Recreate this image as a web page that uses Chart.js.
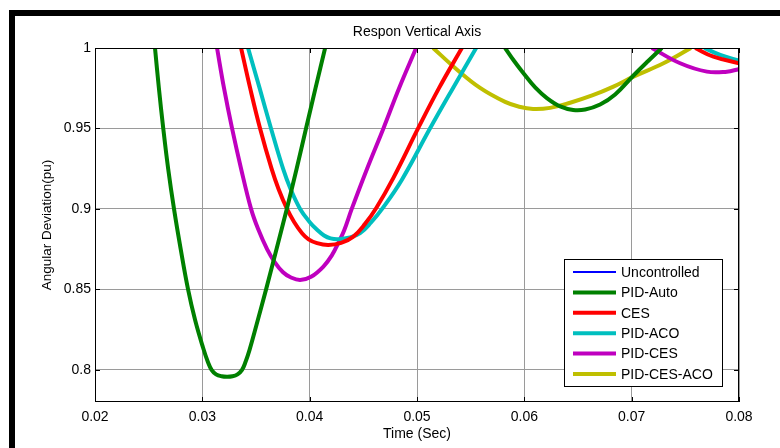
<!DOCTYPE html>
<html>
<head>
<meta charset="utf-8">
<script src="https://cdn.jsdelivr.net/npm/chart.js@4/dist/chart.umd.min.js"></script>
<style>
  body { margin: 0; background: #fff; }
  canvas { display: block; }
</style>
</head>
<body>
<canvas id="respChart" width="780" height="448"></canvas>
<script>
// values (time in sec, deviation in pu)
const seriesNames = ["Uncontrolled", "PID-Auto", "CES", "PID-ACO", "PID-CES", "PID-CES-ACO"];
const seriesColors = ["#0000ff", "#008000", "#ff0000", "#00bfbf", "#bf00bf", "#bfbf00"];

const xTicks = [0.02, 0.03, 0.04, 0.05, 0.06, 0.07, 0.08];
const yTicks = [0.8, 0.85, 0.9, 0.95, 1];

// uncontrolled response stays off the visible range
const uncontrolledT = [];
const uncontrolledV = [];

const pidAutoT = [0.02559, 0.02595, 0.02636, 0.02682, 0.02736, 0.02798, 0.02867, 0.02932, 0.03007, 0.03051, 0.03086, 0.03128, 0.03179, 0.03230,
  0.03281, 0.03328, 0.03370, 0.03403, 0.03440, 0.03505, 0.03594, 0.03692, 0.03787, 0.03878, 0.03966, 0.04055, 0.04144,
  0.05,
  0.05821, 0.05905, 0.05992, 0.06101, 0.06210, 0.06334, 0.06455, 0.06567, 0.06706, 0.06846, 0.07017, 0.07154, 0.07281];
const pidAutoV = [1.0, 0.9752, 0.95, 0.9248, 0.9, 0.8752, 0.85, 0.8311, 0.8137, 0.805, 0.8, 0.7972, 0.796, 0.7957,
  0.796, 0.7972, 0.8, 0.805, 0.8124, 0.828, 0.85, 0.8752, 0.9, 0.9248, 0.95, 0.9752, 1.0,
  null,
  1.0, 0.9919, 0.9843, 0.9755, 0.9689, 0.9637, 0.9615, 0.9618, 0.9649, 0.9711, 0.9829, 0.9919, 1.0];

const cesT = [0.03361, 0.03445, 0.03538, 0.03645, 0.03710, 0.03789, 0.03855, 0.03929, 0.03990, 0.04069, 0.04174,
  0.04293, 0.04407, 0.04516, 0.04619, 0.04780, 0.05010, 0.05206, 0.05418,
  0.065,
  0.07592, 0.07762, 0.08];
const cesV = [1.0, 0.9752, 0.95, 0.925, 0.9124, 0.9, 0.8919, 0.8849, 0.8811, 0.8787, 0.8776,
  0.8789, 0.8828, 0.8907, 0.9004, 0.9193, 0.95, 0.9752, 1.0,
  null,
  1.0, 0.9946, 0.9905];

const pidAcoT = [0.03426, 0.03533, 0.03640, 0.03752, 0.03822, 0.03911, 0.03999, 0.04069, 0.04134, 0.04195, 0.04268,
  0.04376, 0.04470, 0.04572, 0.04675, 0.04858, 0.05122, 0.05336, 0.05551,
  0.065,
  0.07676, 0.07825, 0.08];
const pidAcoV = [1.0, 0.9752, 0.95, 0.925, 0.9124, 0.9, 0.8919, 0.887, 0.8835, 0.8817, 0.8812,
  0.8823, 0.8849, 0.8916, 0.9, 0.918, 0.9501, 0.9752, 1.0,
  null,
  1.0, 0.9957, 0.9921];

const pidCesT = [0.03137, 0.03202, 0.03277, 0.03361, 0.03454, 0.03519, 0.03603, 0.03673, 0.03752, 0.03822, 0.03911,
  0.04013, 0.04128, 0.04209, 0.04265, 0.04321, 0.04392, 0.04535, 0.04687, 0.04833, 0.04992,
  0.06,
  0.07188, 0.07452, 0.07701, 0.07887, 0.07995];
const pidCesV = [1.0, 0.975, 0.95, 0.925, 0.9, 0.8876, 0.875, 0.8671, 0.8606, 0.8575, 0.8558,
  0.8578, 0.8642, 0.8714, 0.8786, 0.8866, 0.9, 0.925, 0.95, 0.975, 1.0,
  null,
  1.0, 0.9905, 0.9853, 0.9853, 0.9868];

const pidCesAcoT = [0.05150, 0.05355, 0.05588, 0.05821, 0.05952, 0.06082, 0.06240, 0.06427, 0.06632, 0.06830, 0.07017, 0.07296, 0.07552];
const pidCesAcoV = [1.0, 0.9876, 0.9752, 0.9665, 0.9635, 0.9621, 0.9628, 0.966, 0.9705, 0.976, 0.9822, 0.9905, 1.0];

const allT = [uncontrolledT, pidAutoT, cesT, pidAcoT, pidCesT, pidCesAcoT];
const allV = [uncontrolledV, pidAutoV, cesV, pidAcoV, pidCesV, pidCesAcoV];

const FONT = '"Liberation Sans", Arial, sans-serif';

const datasets = seriesNames.map((name, i) => ({
  label: name,
  data: allT[i].map((t, k) => ({ x: t, y: allV[i][k] })),
  borderColor: seriesColors[i],
  backgroundColor: seriesColors[i],
  borderWidth: i === 0 ? 2 : 4,
  pointRadius: 0,
  tension: 0.4,
  spanGaps: false,
  clip: 0,
}));

// frame, axis box, inward ticks, titles and legend box
const figurePlugin = {
  id: "figureBits",
  beforeDraw(chart) {
    const ctx = chart.ctx;
    ctx.save();
    ctx.fillStyle = "#fff";
    ctx.fillRect(0, 0, chart.width, chart.height);
    ctx.fillStyle = "#000";
    ctx.fillRect(9, 10, chart.width - 9, 6);
    ctx.fillRect(9, 10, 6, chart.height - 10);
    ctx.restore();
  },
  afterDraw(chart) {
    const ctx = chart.ctx;
    const a = chart.chartArea;
    const xs = chart.scales.x;
    const ys = chart.scales.y;
    ctx.save();

    // axes box
    ctx.strokeStyle = "#000";
    ctx.lineWidth = 1;
    ctx.strokeRect(a.left + 0.5, a.top + 0.5, a.right - a.left - 1, a.bottom - a.top - 1);

    // inward ticks
    ctx.beginPath();
    xTicks.forEach((t) => {
      const px = Math.round(xs.getPixelForValue(t)) + 0.5;
      ctx.moveTo(px, a.bottom); ctx.lineTo(px, a.bottom - 5);
      ctx.moveTo(px, a.top); ctx.lineTo(px, a.top + 5);
    });
    yTicks.forEach((v) => {
      const py = Math.round(ys.getPixelForValue(v)) + 0.5;
      ctx.moveTo(a.left, py); ctx.lineTo(a.left + 5, py);
      ctx.moveTo(a.right, py); ctx.lineTo(a.right - 5, py);
    });
    ctx.stroke();

    // titles
    ctx.fillStyle = "#000";
    ctx.font = "14px " + FONT;
    ctx.textAlign = "center";
    ctx.textBaseline = "middle";
    const cx = (a.left + a.right) / 2;
    ctx.fillText("Respon Vertical Axis", cx, 32);
    ctx.fillText("Time (Sec)", cx, 434);
    ctx.save();
    ctx.translate(47, (a.top + a.bottom) / 2);
    ctx.rotate(-Math.PI / 2);
    ctx.font = "13.5px " + FONT;
    ctx.fillText("Angular Deviation(pu)", 0, 0);
    ctx.restore();

    // legend
    const lx = 564, ly = 259, lw = 158, lh = 127;
    ctx.fillStyle = "#fff";
    ctx.fillRect(lx, ly, lw, lh);
    ctx.strokeStyle = "#000";
    ctx.strokeRect(lx + 0.5, ly + 0.5, lw, lh);
    ctx.font = "14px " + FONT;
    ctx.textAlign = "left";
    chart.data.datasets.forEach((ds, i) => {
      const y = 272 + i * 20.4;
      ctx.strokeStyle = ds.borderColor;
      ctx.lineWidth = ds.borderWidth;
      ctx.beginPath();
      ctx.moveTo(573, y);
      ctx.lineTo(616, y);
      ctx.stroke();
      ctx.fillStyle = "#000";
      ctx.fillText(ds.label, 621, y + 1);
    });
    ctx.restore();
  },
};

const fmt = (v) => String(+v.toFixed(2));

new Chart(document.getElementById("respChart"), {
  type: "line",
  data: { datasets },
  plugins: [figurePlugin],
  options: {
    responsive: false,
    animation: false,
    layout: { padding: { left: 0, right: 41, top: 48, bottom: 0 } },
    plugins: {
      legend: { display: false },
      title: { display: false },
      tooltip: { enabled: false },
    },
    scales: {
      x: {
        type: "linear",
        min: 0.02,
        max: 0.08,
        afterBuildTicks: (scale) => { scale.ticks = xTicks.map((v) => ({ value: v })); },
        afterFit: (scale) => { scale.height = 46; },
        grid: { color: "#9a9a9a", lineWidth: 1, drawTicks: false },
        border: { display: false },
        ticks: {
          padding: 7,
          color: "#000",
          font: { family: FONT, size: 14 },
          maxRotation: 0,
          callback: (v) => fmt(v),
        },
      },
      y: {
        min: 0.78,
        max: 1,
        afterBuildTicks: (scale) => { scale.ticks = yTicks.map((v) => ({ value: v })); },
        afterFit: (scale) => { scale.width = 95; },
        grid: { color: "#9a9a9a", lineWidth: 1, drawTicks: false },
        border: { display: false },
        ticks: {
          padding: 4,
          color: "#000",
          font: { family: FONT, size: 14 },
          callback: (v) => fmt(v),
        },
      },
    },
  },
});
</script>
</body>
</html>
